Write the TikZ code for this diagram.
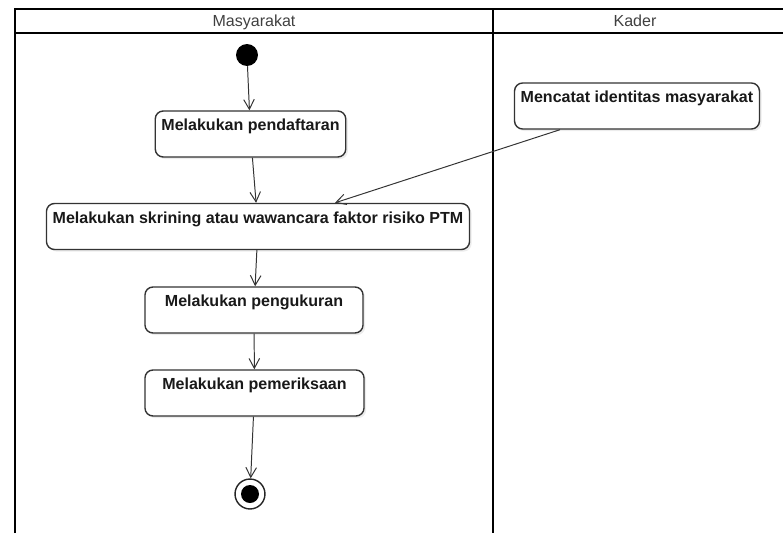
\documentclass[tikz,border=0pt]{standalone}
\usepackage{fontspec}
\setmainfont{Liberation Sans}
\usetikzlibrary{arrows.meta,shadows}

\begin{document}
\begin{tikzpicture}[x=0.025cm, y=-0.025cm,
  lane/.style = {line width=1.4pt, black},
  header/.style = {font=\fontsize{11.4}{13}\selectfont, text=black!75, anchor=base},
  activity/.style = {draw=black!80, line width=1pt, fill=white, rounded corners=5.7pt,
    inner xsep=4.4pt, inner ysep=0pt, text height=14.2pt, text depth=18.5pt,
    font=\fontsize{11.4}{13}\selectfont\bfseries, text=black!90,
    drop shadow={shadow xshift=1.5pt, shadow yshift=-1.5pt, opacity=0.15}},
  flow/.style = {-{Straight Barb[length=7pt,width=7.5pt]}, draw=black!80, line width=0.7pt}]
\useasboundingbox (0,0) rectangle (783,533);
% swimlanes
\draw[lane] (15,533) -- (15,9) -- (783,9);
\draw[lane] (15,33) -- (783,33);
\draw[lane] (493,9) -- (493,533);
\node[header] (masyarakat) at (254,26) {Masyarakat};
\node[header] (kader) at (635,26) {Kader};
% activities
\node[circle, fill=black, minimum size=15.6pt, inner sep=0pt] (mulai) at (247,55) {};
\node[activity] (pendaftaran) at (250.5,134) {Melakukan pendaftaran};
\node[activity] (mencatat) at (637,106) {Mencatat identitas masyarakat};
\node[activity] (skrining) at (258,226.5) {Melakukan skrining atau wawancara faktor risiko PTM};
\node[activity, minimum width=5.45cm] (pengukuran) at (254,310) {Melakukan pengukuran};
\node[activity, minimum width=5.475cm] (pemeriksaan) at (254.5,393) {Melakukan pemeriksaan};
\node[circle, draw=black!85, line width=1pt, fill=white, minimum size=21.3pt, inner sep=0pt] (selesai) at (250,494) {};
\fill[black] (selesai.center) circle[radius=9];
% transitions
\draw[flow] (mulai) -- (pendaftaran);
\draw[flow] (pendaftaran) -- (skrining);
\draw[flow] ([xshift=-1.925cm]mencatat.south) -- ([xshift=1.925cm]skrining.north);
\draw[flow] (skrining) -- (pengukuran);
\draw[flow] (pengukuran) -- (pemeriksaan);
\draw[flow] (pemeriksaan) -- (selesai);
\end{tikzpicture}
\end{document}
